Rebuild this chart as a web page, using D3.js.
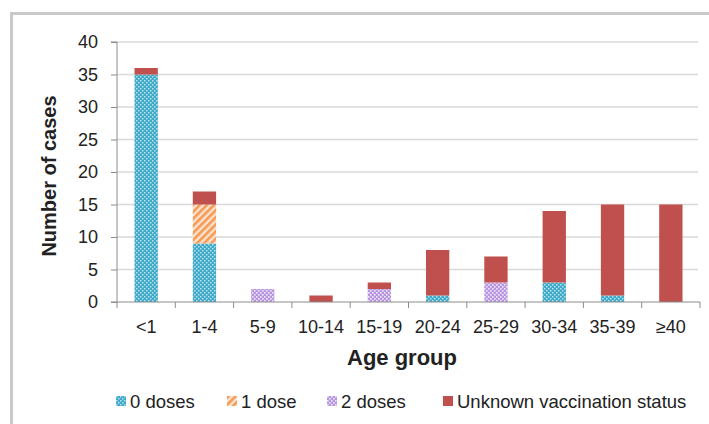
<!DOCTYPE html>
<meta charset="utf-8">
<script src="https://cdn.jsdelivr.net/npm/d3@7"></script>
<html>
<head>
<style>
  body { margin: 0; background: #fff; }
  text { font-family: "Liberation Sans", Arial, sans-serif; fill: #222; }
</style>
</head>
<body>
<div id="chart"></div>
<script>
// data
var ageGroups = ["<1", "1-4", "5-9", "10-14", "15-19", "20-24", "25-29", "30-34", "35-39", "≥40"];
var zeroDoses = [35, 9, 0, 0, 0, 1, 0, 3, 1, 0];
var oneDose   = [0, 6, 0, 0, 0, 0, 0, 0, 0, 0];
var twoDoses  = [0, 0, 2, 0, 2, 0, 3, 0, 0, 0];
var unknown   = [1, 2, 0, 1, 1, 7, 4, 11, 14, 15];
var seriesNames = ["0 doses", "1 dose", "2 doses", "Unknown vaccination status"];
var yTicks = [0, 5, 10, 15, 20, 25, 30, 35, 40];

var W = 709, H = 424;
var pLeft = 117, pRight = 700, pTop = 42, pBottom = 302;

var svg = d3.select("#chart").append("svg")
  .attr("width", W).attr("height", H);

// patterns for the fills
var defs = svg.append("defs");
var p0 = defs.append("pattern").attr("id", "p0").attr("patternUnits", "userSpaceOnUse")
  .attr("width", 4).attr("height", 4);
p0.append("rect").attr("width", 4).attr("height", 4).attr("fill", "#3fa9c9");
p0.append("rect").attr("x", 0).attr("y", 0).attr("width", 1.5).attr("height", 1.5).attr("fill", "#b8e2ee");
p0.append("rect").attr("x", 2).attr("y", 2).attr("width", 1.5).attr("height", 1.5).attr("fill", "#b8e2ee");

var p1 = defs.append("pattern").attr("id", "p1").attr("patternUnits", "userSpaceOnUse")
  .attr("width", 5).attr("height", 5).attr("patternTransform", "rotate(45)");
p1.append("rect").attr("width", 5).attr("height", 5).attr("fill", "#fde3cf");
p1.append("rect").attr("width", 2.6).attr("height", 5).attr("fill", "#f59a55");

var p2 = defs.append("pattern").attr("id", "p2").attr("patternUnits", "userSpaceOnUse")
  .attr("width", 4).attr("height", 4);
p2.append("rect").attr("width", 4).attr("height", 4).attr("fill", "#b895e0");
p2.append("rect").attr("x", 0).attr("y", 0).attr("width", 1.6).attr("height", 1.6).attr("fill", "#f1e8fb");
p2.append("rect").attr("x", 2).attr("y", 2).attr("width", 1.6).attr("height", 1.6).attr("fill", "#f1e8fb");

var fills = ["url(#p0)", "url(#p1)", "url(#p2)", "#c0504d"];

// frame
svg.append("path").attr("d", "M11.5," + H + "V13.5H" + W)
  .attr("fill", "none").attr("stroke", "#c9c9c9").attr("stroke-width", 3);

var x = d3.scaleBand().domain(ageGroups).range([pLeft, pRight])
  .paddingInner(0.6).paddingOuter(0.3);
var y = d3.scaleLinear().domain([0, 40]).range([pBottom, pTop]);

// gridlines
svg.append("g").selectAll("line").data(yTicks.slice(1)).join("line")
  .attr("x1", pLeft).attr("x2", pRight - 2)
  .attr("y1", function(d) { return y(d); }).attr("y2", function(d) { return y(d); })
  .attr("stroke", "#d9d9d9").attr("stroke-width", 1.5);

// stacked bars
var table = ageGroups.map(function(g, i) {
  return { group: g, s0: zeroDoses[i], s1: oneDose[i], s2: twoDoses[i], s3: unknown[i] };
});
var stack = d3.stack().keys(["s0", "s1", "s2", "s3"])(table);
svg.append("g").selectAll("g").data(stack).join("g")
  .attr("fill", function(d, i) { return fills[i]; })
  .selectAll("rect").data(function(d) { return d; }).join("rect")
  .attr("x", function(d) { return x(d.data.group); })
  .attr("width", x.bandwidth())
  .attr("y", function(d) { return y(d[1]); })
  .attr("height", function(d) { return y(d[0]) - y(d[1]); });

// y axis
var yAxis = svg.append("g").attr("transform", "translate(" + pLeft + ",0)")
  .call(d3.axisLeft(y).tickValues(yTicks).tickSize(6).tickPadding(13));
yAxis.select(".domain").attr("stroke", "#8c8c8c").attr("d", "M-6," + pTop + "H0V" + pBottom + "H-6");
yAxis.selectAll(".tick line").attr("stroke", "#8c8c8c");
yAxis.selectAll("text").style("font-size", "18px").attr("fill", "#222");

// x axis: ticks sit between the groups
var xAxis = svg.append("g").attr("transform", "translate(0," + pBottom + ")")
  .call(d3.axisBottom(x).tickSize(0).tickPadding(18));
xAxis.select(".domain").attr("stroke", "#8c8c8c").attr("d", "M" + pLeft + ",0H" + pRight);
xAxis.selectAll("text").style("font-size", "18px").attr("fill", "#222");
var step = x.step();
xAxis.selectAll(".sep").data(d3.range(ageGroups.length + 1)).join("line")
  .attr("x1", function(i) { return pLeft + i * step; })
  .attr("x2", function(i) { return pLeft + i * step; })
  .attr("y1", 0).attr("y2", 6).attr("stroke", "#8c8c8c");

// axis titles
svg.append("text")
  .attr("transform", "translate(56,176) rotate(-90)")
  .attr("text-anchor", "middle")
  .style("font-size", "20px").style("font-weight", "bold")
  .text("Number of cases");
svg.append("text")
  .attr("x", 402).attr("y", 365)
  .attr("text-anchor", "middle")
  .style("font-size", "22px").style("font-weight", "bold")
  .text("Age group");

// legend
var legX = [116, 227, 327, 443];
var leg = svg.append("g").selectAll("g").data(seriesNames).join("g")
  .attr("transform", function(d, i) { return "translate(" + legX[i] + ",396)"; });
leg.append("rect").attr("width", 10).attr("height", 10)
  .attr("fill", function(d, i) { return fills[i]; });
leg.append("text").attr("x", 14).attr("y", 12)
  .style("font-size", "18.5px")
  .text(function(d) { return d; });
</script>
</body>
</html>
